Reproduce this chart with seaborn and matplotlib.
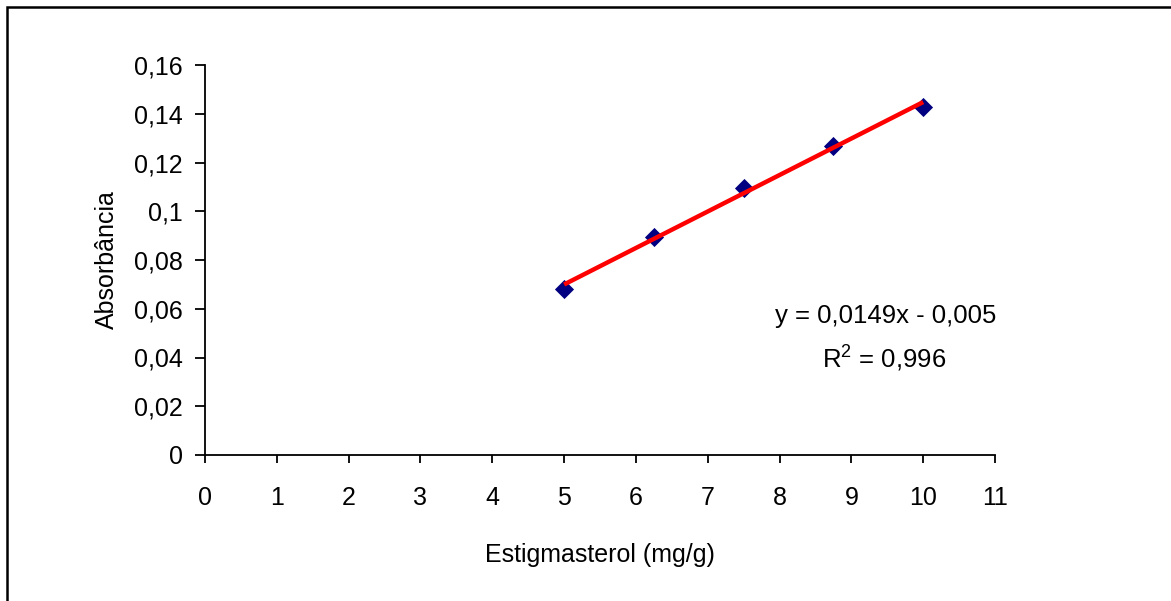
import numpy as np
import pandas as pd
import matplotlib
matplotlib.use("Agg")
import matplotlib.pyplot as plt
import seaborn as sns
from matplotlib.patches import Rectangle

# Data
concentration = [5.0, 6.25, 7.5, 8.75, 10.0]
absorbance = [0.0679, 0.0896, 0.1097, 0.1269, 0.1428]
x_ticks = [0, 1, 2, 3, 4, 5, 6, 7, 8, 9, 10, 11]
x_tick_labels = ["0", "1", "2", "3", "4", "5", "6", "7", "8", "9", "10", "11"]
y_ticks = [0, 0.02, 0.04, 0.06, 0.08, 0.10, 0.12, 0.14, 0.16]
y_tick_labels = ["0", "0,02", "0,04", "0,06", "0,08", "0,1", "0,12", "0,14", "0,16"]
equation_text = "y = 0,0149x - 0,005"
r2_text = "R$^2$ = 0,996"

sns.set_style("white")
plt.rcParams['font.family'] = ['Liberation Sans', 'DejaVu Sans']
plt.rcParams['mathtext.fontset'] = 'custom'
plt.rcParams['mathtext.rm'] = 'Liberation Sans'

df = pd.DataFrame({"x": concentration, "y": absorbance})

W, H = 1171, 601
fig = plt.figure(figsize=(W / 100, H / 100), dpi=100)
ax = fig.add_axes([205 / W, 1 - 455 / H, (995 - 205) / W, (455 - 65) / H])

sns.regplot(data=df, x="x", y="y", ax=ax, ci=None, truncate=True,
            marker="D",
            scatter_kws=dict(color="#000080", s=95, zorder=2, linewidths=0, alpha=1),
            line_kws=dict(color="#ff0000", lw=3.2, zorder=3, solid_capstyle="butt"))

ax.set_xlim(0, 11)
ax.set_ylim(0, 0.16)
ax.set_xticks(x_ticks)
ax.set_xticklabels(x_tick_labels)
ax.set_yticks(y_ticks)
ax.set_yticklabels(y_tick_labels)
ax.tick_params(axis="x", which="major", direction="out", length=6, width=1.3,
               labelsize=18, color="black", labelcolor="black", pad=16, bottom=True)
ax.tick_params(axis="y", which="major", direction="out", length=7, width=1.3,
               labelsize=18, color="black", labelcolor="black", pad=9, left=True)
for side in ["top", "right"]:
    ax.spines[side].set_visible(False)
for side in ["left", "bottom"]:
    ax.spines[side].set_color("black")
    ax.spines[side].set_linewidth(1.3)

ax.set_xlabel("Estigmasterol (mg/g)", fontsize=18, color="black", labelpad=24)
ax.set_ylabel("Absorbância", fontsize=18, color="black", labelpad=11)

ax.text(9.48, 0.0542, equation_text, ha="center", va="baseline", fontsize=18.5, color="black")
ax.text(9.45, 0.0361, r2_text, ha="center", va="baseline", fontsize=18.5, color="black")

fig.patches.append(Rectangle((7 / W, -0.05), 1.1, 1 - 7 / H + 0.05,
                             transform=fig.transFigure, fill=False,
                             edgecolor="black", lw=1.8, clip_on=False))

fig.savefig("out.png", dpi=100)
